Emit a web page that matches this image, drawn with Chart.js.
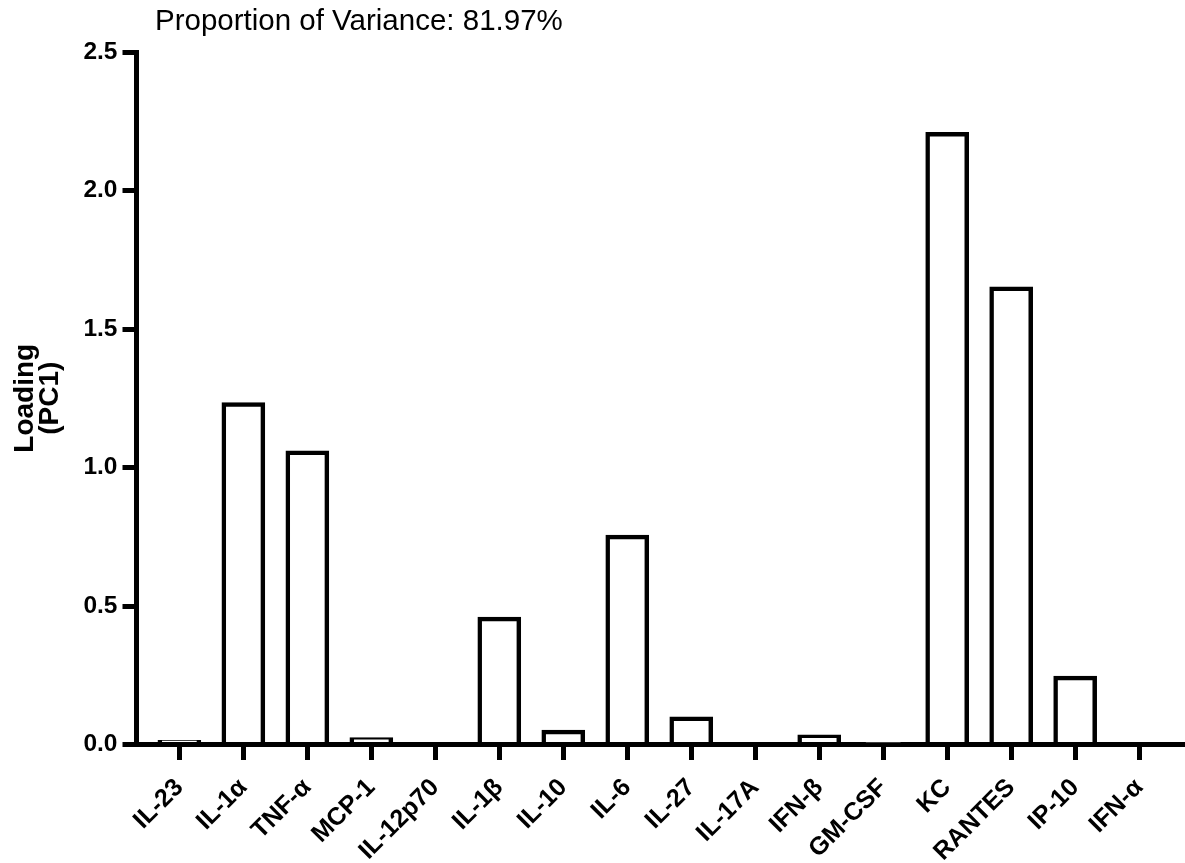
<!DOCTYPE html>
<html>
<head>
<meta charset="utf-8">
<script src="https://cdn.jsdelivr.net/npm/chart.js@4"></script>
<style>
  html, body { margin: 0; padding: 0; background: #fff; }
  #wrap { width: 1185px; height: 863px; position: relative; }
</style>
</head>
<body>
<div id="wrap"><canvas id="chart"></canvas></div>
<script>
// Cytokine loadings on the first principal component
const cytokines = ['IL-23', 'IL-1α', 'TNF-α', 'MCP-1', 'IL-12p70', 'IL-1β', 'IL-10', 'IL-6',
                   'IL-27', 'IL-17A', 'IFN-β', 'GM-CSF', 'KC', 'RANTES', 'IP-10', 'IFN-α'];
const loadingPC1 = [0.015, 1.234, 1.06, 0.025, 0, 0.46, 0.052, 0.756,
                    0.10, 0, 0.035, 0.008, 2.21, 1.652, 0.247, 0];
const yTicks = [0, 0.5, 1.0, 1.5, 2.0, 2.5];
const varianceText = 'Proportion of Variance: 81.97%';
const yTitle = ['Loading', '(PC1)'];

const FONT = '"Liberation Sans", Arial, Helvetica, sans-serif';

// Header line above the plot
const headline = {
  id: 'headline',
  afterDraw(chart) {
    const ctx = chart.ctx;
    ctx.save();
    ctx.font = '29.5px ' + FONT;
    ctx.fillStyle = '#000';
    ctx.textAlign = 'left';
    ctx.textBaseline = 'alphabetic';
    ctx.fillText(varianceText, 155, 30);
    ctx.restore();
  }
};

new Chart(document.getElementById('chart'), {
  type: 'bar',
  data: {
    datasets: [{
      data: cytokines.map((name, i) => ({ x: i, y: loadingPC1[i] })),
      backgroundColor: '#ffffff',
      borderColor: '#000000',
      borderWidth: 4.5,
      borderSkipped: 'start',
      barThickness: 43
    }]
  },
  options: {
    responsive: true,
    maintainAspectRatio: false,
    animation: false,
    layout: { padding: { top: 52, right: 3, left: 0, bottom: 0 } },
    plugins: {
      legend: { display: false },
      tooltip: { enabled: false }
    },
    scales: {
      x: {
        type: 'linear',
        offset: false,
        z: 1,
        min: -0.67,
        max: 15.67,
        afterBuildTicks: s => { s.ticks = cytokines.map((_, i) => ({ value: i })); },
        afterFit: s => { s.height = 118.5; },
        grid: { offset: false, drawOnChartArea: false, drawTicks: true, tickLength: 15.5, color: '#000', lineWidth: 5 },
        border: { display: true, color: '#000', width: 5 },
        ticks: {
          autoSkip: false,
          minRotation: 45,
          maxRotation: 45,
          padding: 13,
          color: '#000',
          font: { family: FONT, size: 25, weight: 'bold' },
          callback: v => cytokines[v]
        }
      },
      y: {
        min: 0,
        max: 2.5,
        z: 1,
        afterBuildTicks: s => { s.ticks = yTicks.map(v => ({ value: v })); },
        afterFit: s => { s.width = 136.5; },
        grid: { drawOnChartArea: false, drawTicks: true, tickLength: 14, color: '#000', lineWidth: 5 },
        border: { display: true, color: '#000', width: 5 },
        ticks: {
          padding: 5,
          color: '#000',
          font: { family: FONT, size: 24.5, weight: 'bold' },
          callback: v => v.toFixed(1)
        },
        title: {
          display: true,
          text: yTitle,
          color: '#000',
          font: { family: FONT, size: 28, weight: 'bold', lineHeight: 0.92 },
          padding: { top: 12, bottom: 0 }
        }
      }
    }
  },
  plugins: [headline]
});
</script>
</body>
</html>
